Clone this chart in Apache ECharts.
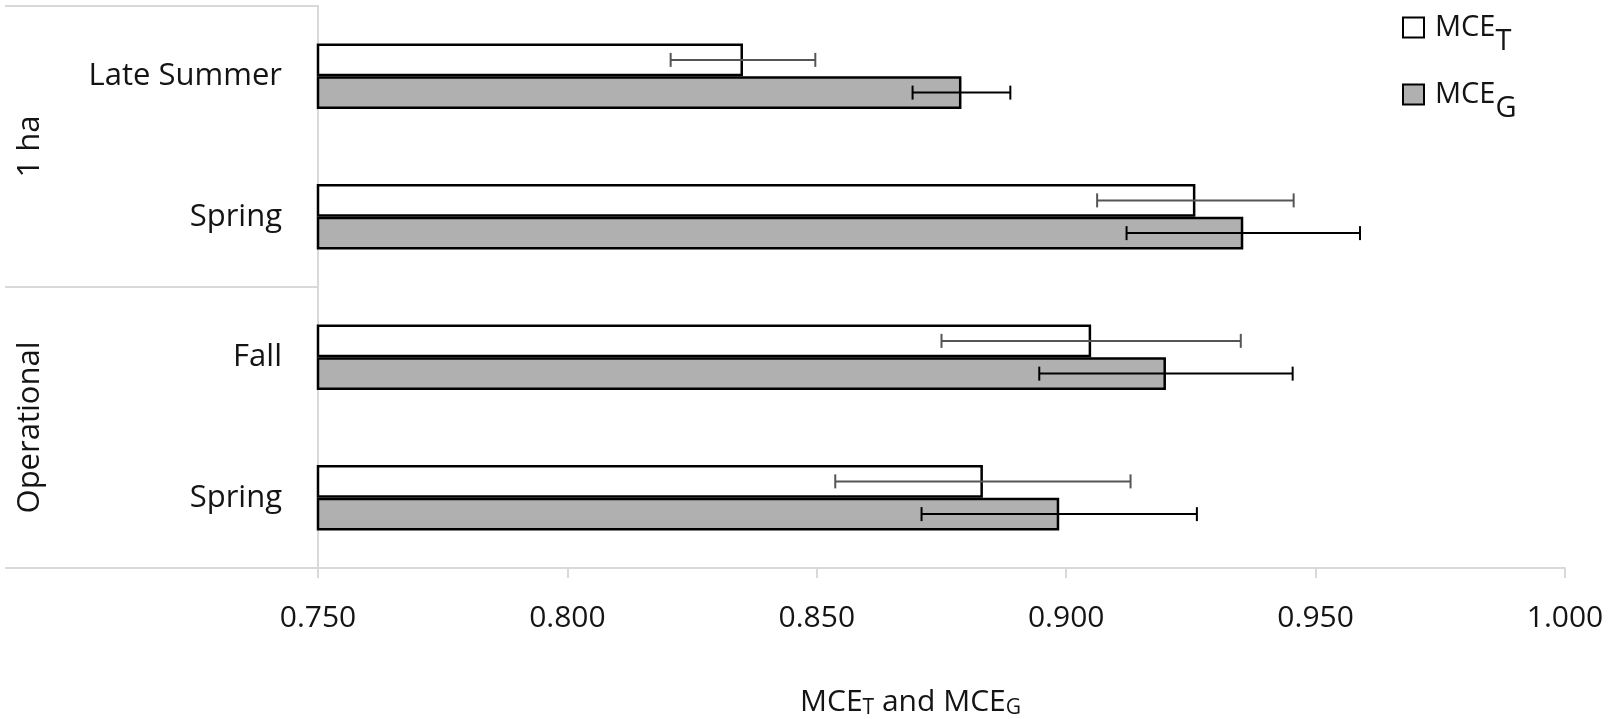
<!DOCTYPE html>
<html>
<head>
<meta charset="utf-8">
<script src="https://cdn.jsdelivr.net/npm/echarts@6/dist/echarts.min.js"></script>
<style>
html,body{margin:0;padding:0;background:#fff;}
#main{width:1611px;height:719px;}
</style>
</head>
<body>
<div id="main"></div>
<script>
// ---- data ----
const groups = ['1 ha', 'Operational'];
const groupOf = [0, 0, 1, 1];
const categories = ['Late Summer', 'Spring', 'Fall', 'Spring'];
const mceT = [0.8352, 0.9259, 0.9050, 0.8833];
const mceTErr = [0.0145, 0.0197, 0.0300, 0.0296];
const mceG = [0.8790, 0.9355, 0.9200, 0.8986];
const mceGErr = [0.0098, 0.0234, 0.0254, 0.0276];
const xTicks = ['0.750', '0.800', '0.850', '0.900', '0.950', '1.000'];

// ---- style ----
const FONT = 'Open Sans';
const TXT = '#141414';
const AXIS = '#d9d9d9';
const BAR_FRAC = 0.233;
const G = {left: 318, right: 46, top: 6, bottom: 151};

const catKeys = categories.map((c, i) => i + '|' + c);

function errRender(sign, color) {
  return function (params, api) {
    const cat = api.value(0);
    const lo = api.coord([api.value(1), cat]);
    const hi = api.coord([api.value(2), cat]);
    const band = api.size([0, 1])[1];
    const y = lo[1] + sign * band * BAR_FRAC / 2;
    const h = 7;
    const st = {stroke: color, lineWidth: 2};
    return {
      type: 'group',
      children: [
        {type: 'line', shape: {x1: lo[0], y1: y, x2: hi[0], y2: y}, style: st},
        {type: 'line', shape: {x1: lo[0], y1: y - h, x2: lo[0], y2: y + h}, style: st},
        {type: 'line', shape: {x1: hi[0], y1: y - h, x2: hi[0], y2: y + h}, style: st}
      ]
    };
  };
}

const chart = echarts.init(document.getElementById('main'), null, {renderer: 'canvas'});
const option = {
  animation: false,
  backgroundColor: '#fff',
  textStyle: {fontFamily: FONT},
  grid: {left: G.left, right: G.right, top: G.top, bottom: G.bottom, containLabel: false, outerBoundsMode: 'none'},
  legend: {
    orient: 'vertical',
    left: 1397, top: 8,
    itemWidth: 21, itemHeight: 20, itemGap: 24,
    data: ['MCE_T', 'MCE_G'],
    icon: 'rect',
    formatter: n => n === 'MCE_T' ? 'MCE{s|T}' : 'MCE{s|G}',
    textStyle: {
      fontFamily: FONT, fontSize: 29, color: TXT, padding: [0, 0, 0, 6],
      rich: {s: {fontFamily: FONT, fontSize: 29, color: TXT, padding: [28, 0, 0, 0]}}
    }
  },
  xAxis: {
    type: 'value', min: 0.75, max: 1.0, interval: 0.05,
    axisLine: {show: true, lineStyle: {color: AXIS, width: 2}},
    axisTick: {show: true, length: 10, lineStyle: {color: AXIS, width: 2}},
    splitLine: {show: false},
    axisLabel: {
      margin: 35, fontFamily: FONT, fontSize: 30, color: TXT,
      formatter: v => xTicks[Math.round((v - 0.75) / 0.05)]
    },
    name: 'MCE{s|T} and MCE{s|G}',
    nameLocation: 'middle', nameGap: 117,
    nameTextStyle: {
      fontFamily: FONT, fontSize: 30, color: TXT, padding: [0, 62, 0, 0],
      rich: {s: {fontFamily: FONT, fontSize: 21, color: TXT, padding: [13, 0, 0, 0]}}
    }
  },
  yAxis: {
    type: 'category', inverse: true, data: catKeys,
    axisLine: {show: true, onZero: false, lineStyle: {color: AXIS, width: 2}},
    axisTick: {show: false},
    splitLine: {show: false},
    axisLabel: {
      margin: 36, fontFamily: FONT, fontSize: 31, color: TXT,
      formatter: v => v.split('|')[1]
    }
  },
  series: [
    {
      name: 'MCE_T', type: 'bar', data: mceT, barWidth: (BAR_FRAC * 100) + '%', barGap: '0%',
      itemStyle: {color: '#ffffff', borderColor: '#000', borderWidth: 2.5}, z: 2
    },
    {
      name: 'MCE_G', type: 'bar', data: mceG, barWidth: (BAR_FRAC * 100) + '%', barGap: '0%',
      itemStyle: {color: '#b0b0b0', borderColor: '#000', borderWidth: 2.5}, z: 2
    },
    {
      name: 'errT', type: 'custom', z: 5,
      data: mceT.map((v, i) => [i, v - mceTErr[i], v + mceTErr[i]]),
      encode: {x: [1, 2], y: 0},
      renderItem: errRender(-1, '#555555')
    },
    {
      name: 'errG', type: 'custom', z: 5,
      data: mceG.map((v, i) => [i, v - mceGErr[i], v + mceGErr[i]]),
      encode: {x: [1, 2], y: 0},
      renderItem: errRender(1, '#000000')
    }
  ]
};
chart.setOption(option);

// multi-level category structure (group separators and group labels)
function drawGroups() {
  const centers = catKeys.map((k, i) => chart.convertToPixel({yAxisIndex: 0}, i));
  const band = centers.length > 1 ? Math.abs(centers[1] - centers[0]) : 0;
  const axisX = chart.convertToPixel({xAxisIndex: 0}, 0.75);
  const elems = [];
  const bounds = [];
  groups.forEach((g, gi) => {
    const idx = groupOf.map((v, i) => v === gi ? i : -1).filter(i => i >= 0);
    const top = centers[idx[0]] - band / 2;
    const bot = centers[idx[idx.length - 1]] + band / 2;
    bounds.push(top, bot);
    elems.push({
      type: 'text', x: 30, y: (top + bot) / 2, rotation: Math.PI / 2,
      style: {text: g, font: '31px "Open Sans"', fill: TXT, align: 'center', verticalAlign: 'middle'}
    });
  });
  const ys = Array.from(new Set(bounds.map(b => Math.round(b * 10) / 10)));
  ys.forEach(y => {
    elems.push({
      type: 'line', shape: {x1: 5, y1: y, x2: axisX, y2: y},
      style: {stroke: AXIS, lineWidth: 2}, z: 1
    });
  });
  chart.setOption({graphic: elems});
}
drawGroups();
</script>
</body>
</html>
